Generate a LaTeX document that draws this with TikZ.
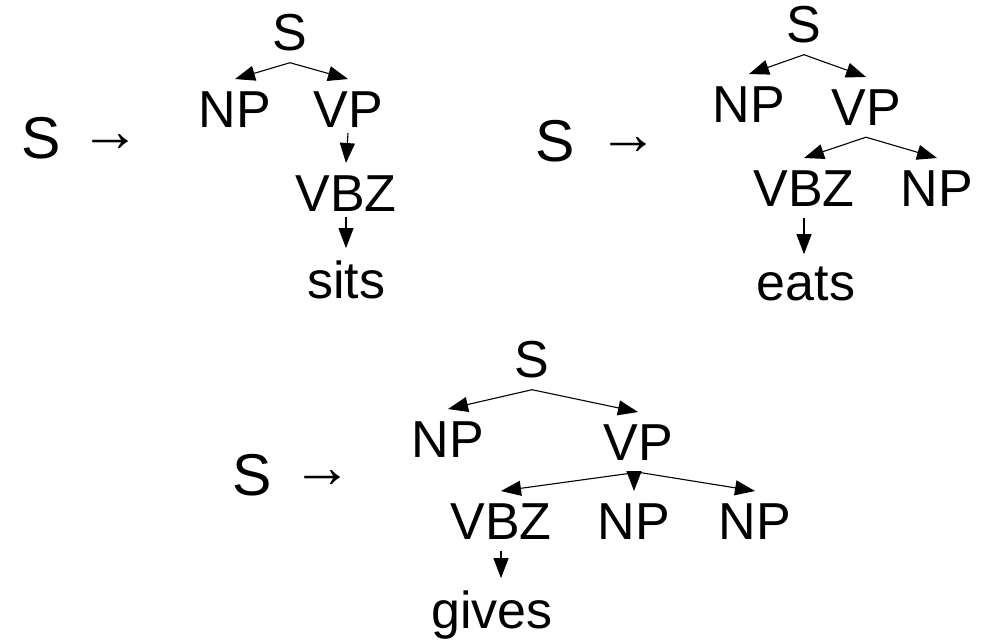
\documentclass[tikz,border=0pt]{standalone}
\usepackage{fontspec}
\setmainfont{Liberation Sans}
\usetikzlibrary{arrows.meta}
\begin{document}
\begin{tikzpicture}[x=1pt,y=-1pt,
  lbl/.style={anchor=base,inner xsep=0pt,inner ysep=12pt,font=\fontsize{52}{62}\selectfont},
  bigs/.style={anchor=base,inner sep=0pt,font=\fontsize{59}{70}\selectfont},
  rarrow/.style={anchor=base,inner sep=0pt,font=\fontsize{60}{70}\selectfont},
  edge/.style={line width=1.1pt,-{Triangle[length=20pt,width=15pt]}}]
\useasboundingbox (0,0) rectangle (985,643);

% ---- S -> NP VP(VBZ sits)
\node[bigs]   (ls1) at (41,158) {S};
\node[rarrow] (ar1) at (110,151) {→};
\node[lbl] (s1)   at (290,50)  {S};
\node[lbl] (np1)  at (235,127) {NP};
\node[lbl] (vp1)  at (348,127) {VP};
\node[lbl] (vbz1) at (346,211) {VBZ};
\node[lbl] (w1)   at (346,298) {sits};
\coordinate (j1) at (s1.south);
\draw[edge] (j1) -- (np1.north);
\draw[edge] (j1) -- (vp1.north);
\draw[edge] ([yshift=6pt]vp1.south) -- (vbz1.north);
\draw[edge] ([yshift=6pt]vbz1.south) -- (vbz1.south |- w1.north);

% ---- S -> NP VP(VBZ eats, NP)
\node[bigs]   (ls2) at (555,161) {S};
\node[rarrow] (ar2) at (628,154) {→};
\node[lbl] (s2)   at (804,42)  {S};
\node[lbl] (np2)  at (749,122) {NP};
\node[lbl] (vp2)  at (866,125) {VP};
\node[lbl] (vbz2) at (804,206) {VBZ};
\node[lbl] (np22) at (937,206) {NP};
\node[lbl] (w2)   at (806,300) {eats};
\coordinate (j2) at (s2.south);
\coordinate (k2) at (vp2.south);
\draw[edge] (j2) -- (np2.north);
\draw[edge] (j2) -- (vp2.north);
\draw[edge] (k2) -- (vbz2.north);
\draw[edge] (k2) -- (np22.north);
\draw[edge] (vbz2.south) -- (vbz2.south |- w2.north);

% ---- S -> NP VP(VBZ gives, NP, NP)
\node[bigs]   (ls3) at (252,495) {S};
\node[rarrow] (ar3) at (322,487) {→};
\node[lbl] (s3)   at (532,377) {S};
\node[lbl] (np3)  at (448,457) {NP};
\node[lbl] (vp3)  at (638,460) {VP};
\node[lbl] (vbz3) at (501,539) {VBZ};
\node[lbl] (np32) at (634,539) {NP};
\node[lbl] (np33) at (755,539) {NP};
\node[lbl] (w3)   at (492,628) {gives};
\coordinate (j3) at (s3.south);
\coordinate (k3) at (vp3.south);
\draw[edge] (j3) -- (np3.north);
\draw[edge] (j3) -- (vp3.north);
\draw[edge] (k3) -- (vbz3.north);
\draw[edge] (k3 -| np32.north) -- (np32.north);
\draw[edge] (k3) -- (np33.north);
\draw[edge] (vbz3.south) -- (vbz3.south |- w3.north);
\end{tikzpicture}
\end{document}
